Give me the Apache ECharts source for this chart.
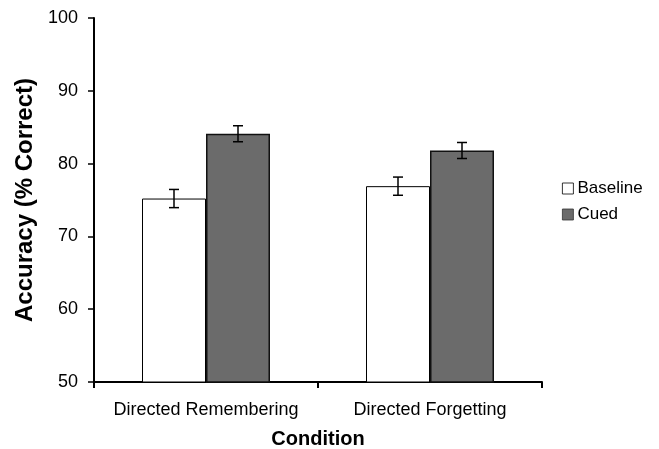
<!DOCTYPE html>
<html>
<head>
<meta charset="utf-8">
<script src="https://cdn.jsdelivr.net/npm/echarts@6/dist/echarts.min.js"></script>
<style>html,body{margin:0;padding:0;background:#fff}#c{width:659px;height:449px}</style>
</head>
<body>
<div id="c"></div>
<script>
var categories = ['Directed Remembering', 'Directed Forgetting'];
var baseline = [75.2, 76.9];
var cued = [84.1, 81.8];
var baselineErr = [1.25, 1.25];
var cuedErr = [1.1, 1.1];
var yTicks = [50, 60, 70, 80, 90, 100];

var chart = echarts.init(document.getElementById('c'));
var font = 'Liberation Sans, Arial, Helvetica, sans-serif';
var barW = 64;

function errSeries(vals, errs, idx) {
  var data = vals.map(function (v, i) { return [i, v - errs[i], v + errs[i]]; });
  return {
    type: 'custom',
    z: 10,
    silent: true,
    data: data,
    encode: { x: 0, y: [1, 2] },
    renderItem: function (params, api) {
      var i = api.value(0);
      var lo = api.coord([i, api.value(1)]);
      var hi = api.coord([i, api.value(2)]);
      var off = (idx === 0 ? -1 : 1) * barW / 2;
      var x = lo[0] + off;
      var cw = 5;
      var st = { stroke: '#000', lineWidth: 1.5 };
      return {
        type: 'group',
        children: [
          { type: 'line', shape: { x1: x, y1: lo[1], x2: x, y2: hi[1] }, style: st },
          { type: 'line', shape: { x1: x - cw, y1: lo[1], x2: x + cw, y2: lo[1] }, style: st },
          { type: 'line', shape: { x1: x - cw, y1: hi[1], x2: x + cw, y2: hi[1] }, style: st }
        ]
      };
    }
  };
}

chart.setOption({
  animation: false,
  grid: { left: 94, right: 117, top: 18, bottom: 67, containLabel: false, outerBoundsMode: 'none' },
  legend: {
    orient: 'vertical',
    left: 557, top: 175,
    itemWidth: 11, itemHeight: 11, itemGap: 9,
    icon: 'rect',
    textStyle: { fontFamily: font, fontSize: 17, color: '#000', padding: [0, 0, 0, -1] },
    data: [
      { name: 'Baseline', itemStyle: { color: '#fff', borderColor: '#000', borderWidth: 0.8 } },
      { name: 'Cued', itemStyle: { color: '#6b6b6b', borderColor: '#333', borderWidth: 0.8 } }
    ]
  },
  xAxis: {
    type: 'category',
    data: categories,
    name: 'Condition',
    nameLocation: 'middle',
    nameGap: 47,
    nameTextStyle: { fontFamily: font, fontSize: 20, fontWeight: 'bold', color: '#000' },
    axisLine: { lineStyle: { color: '#000', width: 2 } },
    axisTick: { show: true, length: 6, lineStyle: { color: '#000', width: 2 } },
    axisLabel: { interval: 0, hideOverlap: false, fontFamily: font, fontSize: 18, color: '#000', margin: 19 }
  },
  yAxis: {
    type: 'value',
    min: 50, max: 100, interval: 10,
    name: 'Accuracy (% Correct)',
    nameLocation: 'middle',
    nameGap: 51,
    nameTextStyle: { fontFamily: font, fontSize: 24, fontWeight: 'bold', color: '#000' },
    splitLine: { show: false },
    axisLine: { show: true, lineStyle: { color: '#000', width: 2 } },
    axisTick: { show: true, length: 6, lineStyle: { color: '#000', width: 1.5 } },
    axisLabel: { fontFamily: font, fontSize: 18, color: '#000', margin: 16,
      formatter: function (v) { return yTicks.indexOf(v) >= 0 ? String(v) : ''; } }
  },
  series: [
    { name: 'Baseline', type: 'bar', data: baseline, barWidth: barW, barGap: '0%',
      itemStyle: { color: '#fff', borderColor: '#000', borderWidth: 1 } },
    { name: 'Cued', type: 'bar', data: cued, barWidth: barW, barGap: '0%',
      itemStyle: { color: '#6b6b6b', borderColor: '#111', borderWidth: 1.5 } },
    errSeries(baseline, baselineErr, 0),
    errSeries(cued, cuedErr, 1)
  ]
});
</script>
</body>
</html>
